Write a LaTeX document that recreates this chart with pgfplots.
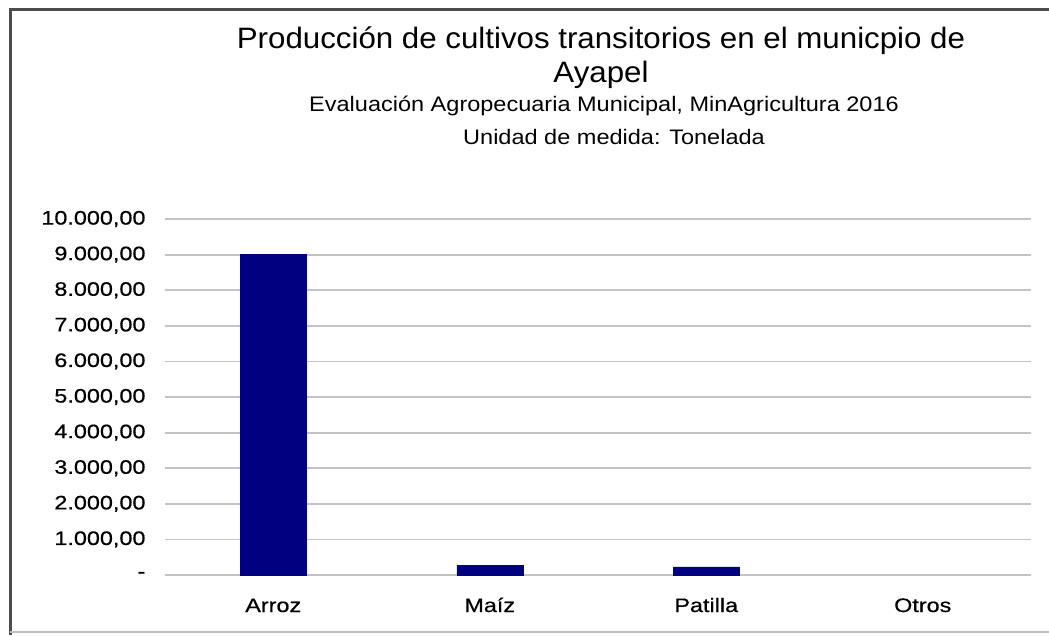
\documentclass[border=0pt]{standalone}
\usepackage{fontspec}
\setmainfont{Liberation Sans}
\newfontfamily\titlefont{Liberation Sans}[FakeStretch=1.06]
\newfontfamily\subfont{Liberation Sans}[FakeStretch=1.12]
\newfontfamily\tickfont{Liberation Sans}[FakeStretch=1.2, FakeBold=0.6]
\usepackage{pgfplots}
\pgfplotsset{compat=1.18}
\definecolor{barblue}{RGB}{0,0,128}
\definecolor{gridgray}{RGB}{195,195,195}
\begin{document}
\begin{tikzpicture}
\path[use as bounding box] (0pt,0pt) rectangle (1049pt,-635pt);
% frame
\draw[line width=3pt, draw=black!70] (10pt,-635pt) -- (10pt,-9pt) -- (1049pt,-9pt);
\draw[line width=1.5pt, draw=black!25] (10pt,-632pt) -- (1049pt,-632pt);
% titles
\node[anchor=center, font=\titlefont\fontsize{29.5}{34}\selectfont] at (601pt,-41pt) {Producción de cultivos transitorios en el municpio de};
\node[anchor=center, font=\titlefont\fontsize{29.5}{34}\selectfont] at (601pt,-75pt) {Ayapel};
\node[anchor=center, font=\subfont\fontsize{21}{25}\selectfont] at (604pt,-106pt) {Evaluación Agropecuaria Municipal, MinAgricultura 2016};
\node[anchor=center, font=\subfont\fontsize{21}{25}\selectfont] at (614pt,-137pt) {Unidad de medida: Tonelada};
\begin{axis}[
  at={(165pt,-575pt)}, anchor=south west,
  scale only axis, width=866pt, height=356pt,
  xmin=-0.5, xmax=3.5, ymin=0, ymax=10000,
  scaled y ticks=false,
  axis line style={draw=none},
  major tick length=0pt,
  xtick={0,1,2,3},
  xticklabels={Arroz,Maíz,Patilla,Otros},
  ytick={0,1000,2000,3000,4000,5000,6000,7000,8000,9000,10000},
  yticklabels={-,{1.000,00},{2.000,00},{3.000,00},{4.000,00},{5.000,00},{6.000,00},{7.000,00},{8.000,00},{9.000,00},{10.000,00}},
  ymajorgrids,
  major grid style={draw=gridgray, line width=1.8pt},
  yticklabel style={font=\tickfont\fontsize{19.5}{23}\selectfont, anchor=east, xshift=-16pt},
  xticklabel style={font=\tickfont\fontsize{19.5}{23}\selectfont, anchor=base, yshift=-37pt},
  ybar, bar width=66pt,
  clip=false,
]
\addplot[fill=barblue, draw=barblue] coordinates {(0,9000) (1,280) (2,230)};
\end{axis}
\end{tikzpicture}
\end{document}
